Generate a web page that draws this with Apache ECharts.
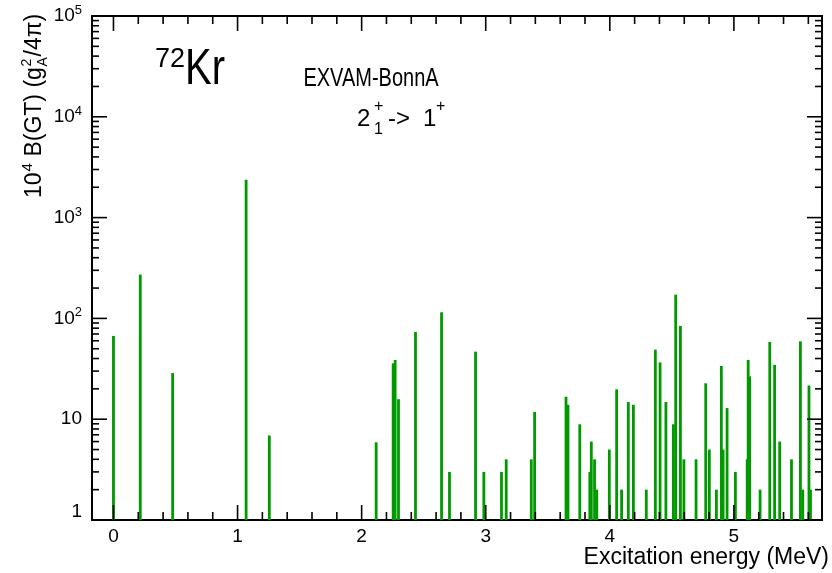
<!DOCTYPE html>
<html><head><meta charset="utf-8">
<script src="https://cdn.jsdelivr.net/npm/echarts@6/dist/echarts.min.js"></script>
<style>html,body{margin:0;padding:0;background:#fff}#c{width:832px;height:573px}</style>
</head><body><div id="c"></div>
<script>
// Excitation energies (MeV)
const energies = [0.000, 0.216, 0.477, 1.069, 1.256, 2.117, 2.254, 2.270, 2.297, 2.434,
  2.644, 2.708, 2.918, 2.985, 3.127, 3.165, 3.367, 3.394, 3.647, 3.663,
  3.758, 3.839, 3.851, 3.877, 3.895, 3.996, 4.055, 4.095, 4.149, 4.190,
  4.294, 4.367, 4.405, 4.452, 4.512, 4.531, 4.569, 4.597, 4.695, 4.773,
  4.802, 4.859, 4.899, 4.913, 4.945, 5.012, 5.107, 5.115, 5.127, 5.211,
  5.289, 5.328, 5.369, 5.464, 5.536, 5.555, 5.605, 5.617];
// 10^4 B(GT)
const strengths = [67, 272, 28.7, 2380, 6.9, 5.9, 35.8, 38.7, 15.8, 73.4,
  115, 3, 46.8, 3, 3, 4, 4, 11.8, 16.7, 13.9,
  8.9, 3, 6, 4, 2, 5, 19.8, 2, 14.8, 13.9,
  2, 49, 36.6, 14.8, 8.9, 172, 84, 4, 4, 22.7,
  5, 2, 33.7, 5, 12.9, 3, 4, 38.7, 26.6, 2,
  58.4, 34.6, 6, 4, 59.2, 2, 21.6, 2];
const xTickValues = [0, 1, 2, 3, 4, 5];
const xTickLabels = ['0', '1', '2', '3', '4', '5'];
const yTickValues = [1, 10, 100, 1000, 10000, 100000];
const yTickLabels = ['{one|1}', '10', '10{s|2}', '10{s|3}', '10{s|4}', '10{s|5}'];
const xMin = -0.173, xMax = 5.71, yMin = 1, yMax = 100000;

const xMinor = [];
for (let i = 0; i < 30; i++) { const v = +(i * 0.2).toFixed(1); if (i % 5 !== 0 && v < xMax) xMinor.push(v); }
const yMinor = [];
for (let d = 1; d < 100000; d *= 10) for (let k = 2; k <= 9; k++) yMinor.push(k * d);

const FONT = '"Liberation Sans", Arial, Helvetica, sans-serif';
const GREEN = '#009900';
// tick marks positions and their lengths
const xTickPos = xTickValues.concat(xMinor);
const xTickLen = xTickValues.map(() => 15).concat(xMinor.map(() => 8));
const yTickPos = yTickValues.concat(yMinor);
const yTickLen = yTickValues.map(() => 15).concat(yMinor.map(() => 7));
const TW = 1.6;

const chart = echarts.init(document.getElementById('c'));
chart.setOption({
  animation: false,
  grid: { left: 92, right: 10, top: 16, bottom: 53, show: true, borderColor: '#000', borderWidth: 2 },
  xAxis: {
    type: 'value', min: xMin, max: xMax,
    axisLine: { show: true, onZero: false, lineStyle: { color: '#000', width: 2 } },
    axisTick: { show: false },
    axisLabel: { show: true, customValues: xTickValues, formatter: v => xTickLabels[xTickValues.indexOf(Math.round(v))], fontFamily: FONT, fontSize: 19, color: '#000', margin: 7 },
    splitLine: { show: false }
  },
  yAxis: {
    type: 'log', min: yMin, max: yMax,
    axisLine: { show: true, onZero: false, lineStyle: { color: '#000', width: 2 } },
    axisTick: { show: false },
    axisLabel: {
      show: true, fontFamily: FONT, fontSize: 19, color: '#000', margin: 10, lineHeight: 24,
      formatter: v => yTickLabels[Math.round(Math.log10(v))],
      rich: {
        s: { fontFamily: FONT, fontSize: 13, verticalAlign: 'top', lineHeight: 24, padding: [0, 0, 8, 0] },
        one: { fontFamily: FONT, fontSize: 19, padding: [0, 0, 16, 0] }
      }
    },
    splitLine: { show: false }
  },
  series: [{
    type: 'custom',
    data: energies.map((e, i) => [e, strengths[i]]),
    renderItem: function (params, api) {
      const top = api.coord([api.value(0), api.value(1)]);
      const base = api.coord([api.value(0), yMin]);
      return { type: 'rect', shape: { x: top[0] - 1.4, y: top[1], width: 2.8, height: base[1] - top[1] }, style: { fill: GREEN } };
    }
  }, {
    type: 'custom', clip: false, z: 10,
    data: xTickPos.map(v => [v, 10]),
    renderItem: function (params, api) {
      const cs = params.coordSys;
      const x = api.coord([api.value(0), 10])[0];
      const len = xTickLen[params.dataIndex];
      const b = cs.y + cs.height, t = cs.y;
      return { type: 'group', children: [
        { type: 'rect', shape: { x: x - TW / 2, y: b - len, width: TW, height: len }, style: { fill: 'black' } },
        { type: 'rect', shape: { x: x - TW / 2, y: t, width: TW, height: len }, style: { fill: 'black' } }
      ] };
    }
  }, {
    type: 'custom', clip: false, z: 10,
    data: yTickPos.map(v => [1, v]),
    renderItem: function (params, api) {
      const cs = params.coordSys;
      const y = api.coord([1, api.value(1)])[1];
      const len = yTickLen[params.dataIndex];
      const l = cs.x, r = cs.x + cs.width;
      return { type: 'group', children: [
        { type: 'rect', shape: { x: l, y: y - TW / 2, width: len, height: TW }, style: { fill: 'black' } },
        { type: 'rect', shape: { x: r - len, y: y - TW / 2, width: len, height: TW }, style: { fill: 'black' } }
      ] };
    }
  }],
  graphic: [
    { type: 'text', x: 829, y: 558, style: { text: 'Excitation energy (MeV)', font: '23px ' + FONT, fill: '#000', align: 'right', verticalAlign: 'middle' } },
    { type: 'group', x: 35, y: 198, rotation: Math.PI / 2, children: [
      { type: 'text', x: 0, y: 0, style: { text: '10', font: '23px ' + FONT, fill: '#000', verticalAlign: 'middle' } },
      { type: 'text', x: 26.5, y: -7, style: { text: '4', font: '15px ' + FONT, fill: '#000', verticalAlign: 'middle' } },
      { type: 'text', x: 35, y: 0, style: { text: ' B(GT) (g', font: '23px ' + FONT, fill: '#000', verticalAlign: 'middle' } },
      { type: 'text', x: 131.5, y: -8, style: { text: '2', font: '14px ' + FONT, fill: '#000', verticalAlign: 'middle' } },
      { type: 'text', x: 131.5, y: 8, style: { text: 'A', font: '14px ' + FONT, fill: '#000', verticalAlign: 'middle' } },
      { type: 'text', x: 141.5, y: 0, style: { text: '/4\u03c0)', font: '23px ' + FONT, fill: '#000', verticalAlign: 'middle' } }
    ] },
    { type: 'text', x: 185, y: 60, style: { text: '72', font: '27px ' + FONT, fill: '#000', align: 'right', verticalAlign: 'middle' } },
    { type: 'text', x: 185, y: 70, scaleX: 0.8, style: { text: 'Kr', font: '50px ' + FONT, fill: '#000', align: 'left', verticalAlign: 'middle' } },
    { type: 'text', x: 371, y: 79, scaleX: 0.8, style: { text: 'EXVAM-BonnA', font: '25px ' + FONT, fill: '#000', align: 'center', verticalAlign: 'middle' } },
    { type: 'text', x: 357, y: 119, style: { text: '2', font: '24px ' + FONT, fill: '#000', verticalAlign: 'middle' } },
    { type: 'text', x: 374, y: 107, style: { text: '+', font: '16px ' + FONT, fill: '#000', verticalAlign: 'middle' } },
    { type: 'text', x: 374, y: 130, style: { text: '1', font: '16px ' + FONT, fill: '#000', verticalAlign: 'middle' } },
    { type: 'text', x: 388, y: 119, style: { text: '->', font: '24px ' + FONT, fill: '#000', verticalAlign: 'middle' } },
    { type: 'text', x: 423, y: 119, style: { text: '1', font: '24px ' + FONT, fill: '#000', verticalAlign: 'middle' } },
    { type: 'text', x: 436, y: 107, style: { text: '+', font: '16px ' + FONT, fill: '#000', verticalAlign: 'middle' } }
  ]
});
</script></body></html>
